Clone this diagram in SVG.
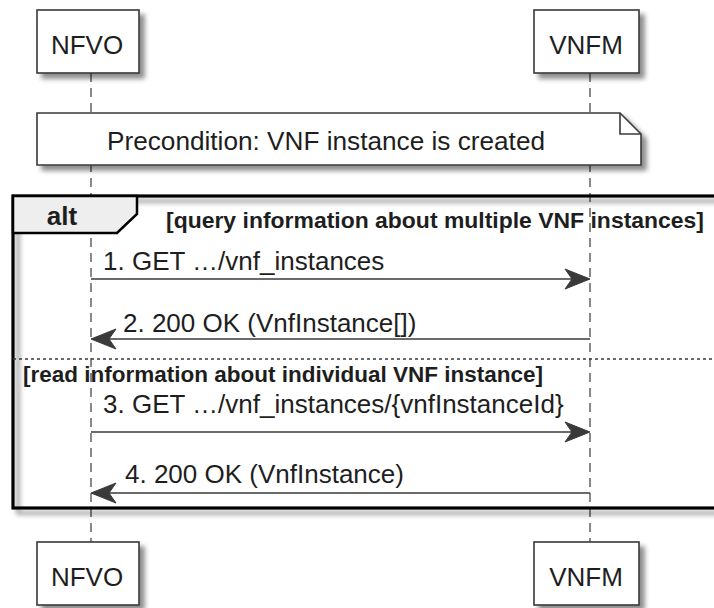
<svg xmlns="http://www.w3.org/2000/svg" width="714" height="608" viewBox="0 0 714 608">
<style>
  text { font-family: "Liberation Sans", Arial, sans-serif; fill: #1e1e1e; }
  .pt { font-size: 26px; text-anchor: middle; }
  .msg { font-size: 26px; }
  .note { font-size: 25px; }
  .guard { font-size: 22.5px; font-weight: bold; }
  .kw { font-size: 26px; font-weight: bold; text-anchor: middle; }
  .box { fill: #ffffff; stroke: #3a3a3a; stroke-width: 1.6; }
  .life { stroke: #3a3a3a; stroke-width: 1.2; stroke-dasharray: 9 6; fill: none; }
  .arrow { stroke: #3a3a3a; stroke-width: 1.6; fill: none; }
  .head { fill: #3a3a3a; stroke: #3a3a3a; stroke-width: 1; }
</style>
<defs>
  <filter id="sh" x="-20%" y="-20%" width="150%" height="160%">
    <feGaussianBlur in="SourceAlpha" stdDeviation="2.5"/>
    <feOffset dx="5" dy="5" result="b"/>
    <feComponentTransfer><feFuncA type="linear" slope="0.45"/></feComponentTransfer>
    <feMerge><feMergeNode/><feMergeNode in="SourceGraphic"/></feMerge>
  </filter>
</defs>

<g id="lifelines">
  <line class="life" x1="91" y1="73" x2="91" y2="542"/>
  <line class="life" x1="590" y1="73" x2="590" y2="542"/>
</g>

<g id="nfvo-top">
  <rect class="box" x="37" y="10" width="102" height="63" filter="url(#sh)"/>
  <text class="pt" x="87" y="54">NFVO</text>
</g>
<g id="vnfm-top">
  <rect class="box" x="534" y="10" width="105" height="63" filter="url(#sh)"/>
  <text class="pt" x="586" y="54">VNFM</text>
</g>

<g id="note">
  <path class="box" d="M37,113 L620,113 L641,134 L641,165 L37,165 Z" filter="url(#sh)"/>
  <path d="M620,113 L620,134 L641,134" fill="none" stroke="#3a3a3a" stroke-width="1.6"/>
  <text class="note" x="107" y="150" textLength="438" lengthAdjust="spacingAndGlyphs">Precondition: VNF instance is created</text>
</g>

<g id="alt-frame">
  <rect x="13" y="196" width="720" height="312" fill="none" stroke="#000" stroke-width="3.2" filter="url(#sh)"/>
  <path d="M13,196 L137,196 L137,214 L117,233 L13,233 Z" fill="#eeeeee" stroke="#000" stroke-width="2.5"/>
  <text class="kw" x="62" y="225">alt</text>
  <text class="guard" x="166" y="228" textLength="538" lengthAdjust="spacingAndGlyphs">[query information about multiple VNF instances]</text>
  <line x1="13" y1="359" x2="714" y2="359" stroke="#3a3a3a" stroke-width="1.5" stroke-dasharray="3 3"/>
  <text class="guard" x="23" y="382" textLength="520" lengthAdjust="spacingAndGlyphs">[read information about individual VNF instance]</text>
</g>

<g id="connectors">
  <line class="arrow" x1="91" y1="279" x2="588" y2="279"/>
  <path class="head" d="M590,279 L565,269 L572,279 L565,289 Z"/>
  <text class="msg" x="103" y="270">1. GET …/vnf_instances</text>

  <line class="arrow" x1="93" y1="339" x2="590" y2="339"/>
  <path class="head" d="M91,339 L116,329 L109,339 L116,349 Z"/>
  <text class="msg" x="123" y="332">2. 200 OK (VnfInstance[])</text>

  <line class="arrow" x1="91" y1="432" x2="588" y2="432"/>
  <path class="head" d="M590,432 L565,422 L572,432 L565,442 Z"/>
  <text class="msg" x="103" y="413">3. GET …/vnf_instances/{vnfInstanceId}</text>

  <line class="arrow" x1="93" y1="493" x2="590" y2="493"/>
  <path class="head" d="M91,493 L116,483 L109,493 L116,503 Z"/>
  <text class="msg" x="125" y="483">4. 200 OK (VnfInstance)</text>
</g>

<g id="nfvo-bottom">
  <rect class="box" x="37" y="542" width="102" height="63" filter="url(#sh)"/>
  <text class="pt" x="87" y="586">NFVO</text>
</g>
<g id="vnfm-bottom">
  <rect class="box" x="534" y="542" width="105" height="63" filter="url(#sh)"/>
  <text class="pt" x="586" y="586">VNFM</text>
</g>
</svg>
